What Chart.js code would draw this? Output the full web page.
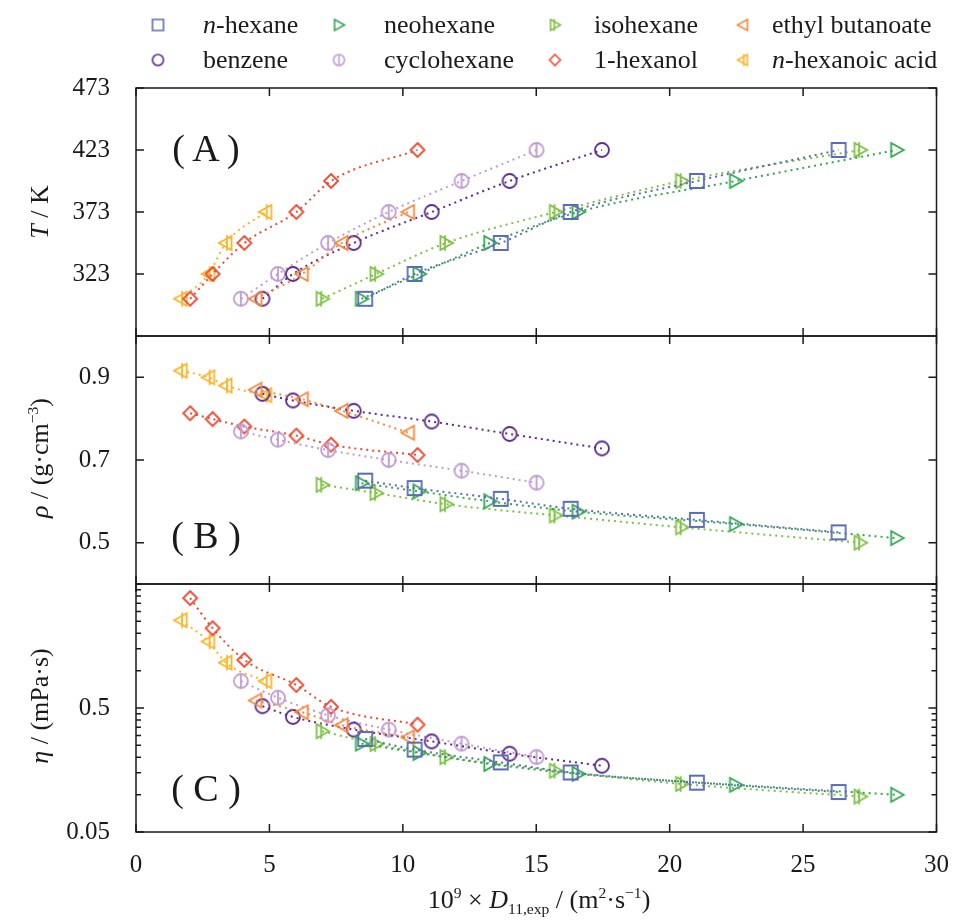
<!DOCTYPE html>
<html>
<head>
<meta charset="utf-8">
<script src="https://cdn.jsdelivr.net/npm/chart.js@4.4.1/dist/chart.umd.min.js"></script>
<style>
    body { margin: 0; background: #fff; }
    #wrap { position: relative; width: 959px; height: 920px; font-family: 'Liberation Serif', 'Times New Roman', serif; color: #1a1a1a; }
    #c { position: absolute; left: 0; top: 0; }
    .leg-mark { position: absolute; transform: translate(-50%, -50%); }
    .leg-text { position: absolute; transform: translateY(-50%); font-size: 26px; white-space: nowrap; }
    .ytitle { position: absolute; font-size: 26px; white-space: nowrap; transform: translate(-50%, -50%) rotate(-90deg); }
    .xtitle { position: absolute; font-size: 26px; white-space: nowrap; transform: translate(-50%, -50%); }
    .panel { position: absolute; font-size: 38px; white-space: nowrap; transform: translate(-50%, -50%); }
    sup, sub { font-size: 0.6em; line-height: 0; }
</style>
</head>
<body>
<div id="wrap">
    <canvas id="c" width="959" height="920"></canvas>
    <div id="legend"></div>
    <div class="ytitle" style="left:40px; top:212px"><i>T</i> / K</div>
    <div class="ytitle" style="left:40px; top:458px"><i>ρ</i> / (g·cm<sup>−3</sup>)</div>
    <div class="ytitle" style="left:40px; top:706px"><i>η</i> / (mPa·s)</div>
    <div class="xtitle" style="left:539px; top:900px">10<sup>9</sup> × <i>D</i><sub>11,exp</sub> / (m<sup>2</sup>·s<sup>−1</sup>)</div>
    <div class="panel" style="left:206px; top:148px">( A )</div>
    <div class="panel" style="left:206px; top:535px">( B )</div>
    <div class="panel" style="left:206px; top:788px">( C )</div>
</div>
<script>
// ---- datos ----
const seriesNames = ['n-hexane', 'neohexane', 'isohexane', 'ethyl butanoate',
                     'benzene', 'cyclohexane', '1-hexanol', 'n-hexanoic acid'];

// 10^9 x D11 (m2/s)
const dHexane      = [8.59, 10.44, 13.67, 16.29, 21.02, 26.33];
const dNeohexane   = [8.45, 10.61, 13.26, 16.57, 22.47, 28.51];
const dIsohexane   = [6.98, 9.00, 11.62, 15.72, 20.45, 27.14];
const dEthylBut    = [4.49, 6.23, 7.72, 10.21];
const dBenzene     = [4.74, 5.88, 8.16, 11.08, 14.00, 17.46];
const dCyclohexane = [3.93, 5.32, 7.20, 9.47, 12.20, 15.01];
const dHexanol     = [2.03, 2.87, 4.06, 6.01, 7.31, 10.55];
const dHexanoic    = [1.69, 2.72, 3.37, 4.86];

// T / K
const tSix  = [303, 323, 348, 373, 398, 423];
const tFour = [303, 323, 348, 373];

// densidad
const rhoHexane      = [0.650, 0.632, 0.606, 0.582, 0.555, 0.525];
const rhoNeohexane   = [0.644, 0.624, 0.600, 0.575, 0.545, 0.511];
const rhoIsohexane   = [0.640, 0.620, 0.593, 0.566, 0.537, 0.500];
const rhoEthylBut    = [0.870, 0.847, 0.819, 0.766];
const rhoBenzene     = [0.860, 0.844, 0.819, 0.793, 0.763, 0.728];
const rhoCyclohexane = [0.769, 0.749, 0.724, 0.700, 0.674, 0.645];
const rhoHexanol     = [0.813, 0.799, 0.781, 0.759, 0.737, 0.712];
const rhoHexanoic    = [0.916, 0.900, 0.880, 0.857];

// viscosidad
const etaHexane      = [0.281, 0.231, 0.182, 0.151, 0.125, 0.105];
const etaNeohexane   = [0.258, 0.217, 0.177, 0.147, 0.120, 0.0998];
const etaIsohexane   = [0.325, 0.256, 0.201, 0.156, 0.122, 0.0966];
const etaEthylBut    = [0.575, 0.462, 0.363, 0.290];
const etaBenzene     = [0.517, 0.424, 0.335, 0.269, 0.214, 0.171];
const etaCyclohexane = [0.824, 0.605, 0.437, 0.335, 0.258, 0.201];
const etaHexanol     = [3.85, 2.20, 1.22, 0.766, 0.511, 0.367];
const etaHexanoic    = [2.55, 1.72, 1.16, 0.824];

// ticks
const ticksT   = [323, 373, 423, 473];
const ticksRho = [0.5, 0.7, 0.9];
const ticksEta = [0.05, 0.1, 0.15, 0.2, 0.25, 0.3, 0.35, 0.4, 0.45, 0.5,
                  1, 1.5, 2, 2.5, 3, 3.5, 4, 4.5, 5];
const ticksEtaLabels = [0.05, 0.5];
const ticksX   = [0, 5, 10, 15, 20, 25, 30];

const FONT = "'Liberation Serif', 'Times New Roman', serif";
const colors = ['#5b6cb6', '#2fa84f', '#7dc243', '#f7893b', '#5d2a8e', '#c39bd3', '#ee4a2e', '#fbb429'];
const shapes = ['square', 'triRight', 'triRightBar', 'triLeft', 'circle', 'circleBar', 'diamond', 'triLeftBar'];

const allD   = [dHexane, dNeohexane, dIsohexane, dEthylBut, dBenzene, dCyclohexane, dHexanol, dHexanoic];
const allT   = [tSix, tSix, tSix, tFour, tSix, tSix, tSix, tFour];
const allRho = [rhoHexane, rhoNeohexane, rhoIsohexane, rhoEthylBut, rhoBenzene, rhoCyclohexane, rhoHexanol, rhoHexanoic];
const allEta = [etaHexane, etaNeohexane, etaIsohexane, etaEthylBut, etaBenzene, etaCyclohexane, etaHexanol, etaHexanoic];

// marcadores huecos dibujados en un canvas pequeño
function makeMarker(shape, color, h, lw) {
    const size = Math.ceil(2 * h + 6);
    const cv = document.createElement('canvas');
    cv.width = size; cv.height = size;
    const g = cv.getContext('2d');
    const c = size / 2;
    g.strokeStyle = color;
    g.lineWidth = lw;
    g.beginPath();
    if (shape === 'square') {
        g.rect(c - h, c - h, 2 * h, 2 * h);
    } else if (shape === 'circle' || shape === 'circleBar') {
        g.arc(c, c, h, 0, Math.PI * 2);
        if (shape === 'circleBar') { g.moveTo(c, c - h); g.lineTo(c, c + h); }
    } else if (shape === 'diamond') {
        g.moveTo(c, c - h); g.lineTo(c + h, c); g.lineTo(c, c + h); g.lineTo(c - h, c); g.closePath();
    } else if (shape.startsWith('triRight')) {
        g.moveTo(c - h * 0.8, c - h); g.lineTo(c + h, c); g.lineTo(c - h * 0.8, c + h); g.closePath();
        if (shape === 'triRightBar') { g.moveTo(c - h * 0.15, c - h * 1.1); g.lineTo(c - h * 0.15, c + h * 1.1); }
    } else {
        g.moveTo(c + h * 0.8, c - h); g.lineTo(c - h, c); g.lineTo(c + h * 0.8, c + h); g.closePath();
        if (shape === 'triLeftBar') { g.moveTo(c + h * 0.15, c - h * 1.1); g.lineTo(c + h * 0.15, c + h * 1.1); }
    }
    g.stroke();
    return cv;
}

const markers = shapes.map((s, i) => makeMarker(s, colors[i], 7, 1.8));

function buildSet(i, ys, axis) {
    return {
        label: seriesNames[i],
        data: allD[i].map((x, k) => ({ x: x, y: ys[k] })),
        yAxisID: axis,
        borderColor: colors[i],
        backgroundColor: colors[i],
        borderWidth: 2,
        borderDash: [2, 4],
        cubicInterpolationMode: 'monotone',
        pointStyle: markers[i],
        pointRadius: 7,
        fill: false
    };
}

const datasets = [];
seriesNames.forEach((n, i) => {
    datasets.push(buildSet(i, allT[i], 'yA'));
    datasets.push(buildSet(i, allRho[i], 'yB'));
    datasets.push(buildSet(i, allEta[i], 'yC'));
});

// marcos y ticks hacia dentro
const framePlugin = {
    id: 'frames',
    afterDraw(chart) {
        const { ctx, chartArea: a, scales } = chart;
        ctx.save();
        ctx.strokeStyle = '#1a1a1a';
        ctx.lineWidth = 1.5;
        ['yA', 'yB', 'yC'].forEach(id => {
            const s = scales[id];
            ctx.strokeRect(a.left, s.top, a.right - a.left, s.bottom - s.top);
            ctx.beginPath();
            s.ticks.forEach(t => {
                const y = s.getPixelForValue(t.value);
                const len = t.label ? 8 : 5;
                ctx.moveTo(a.left, y); ctx.lineTo(a.left + len, y);
                ctx.moveTo(a.right, y); ctx.lineTo(a.right - len, y);
            });
            scales.x.ticks.forEach(t => {
                const x = scales.x.getPixelForValue(t.value);
                ctx.moveTo(x, s.top); ctx.lineTo(x, s.top + 8);
                ctx.moveTo(x, s.bottom); ctx.lineTo(x, s.bottom - 8);
            });
            ctx.stroke();
        });
        ctx.restore();
    }
};

const tickFont = { family: FONT, size: 25 };
const noGrid = { display: false };
const noBorder = { display: false };

const ctx = document.getElementById('c').getContext('2d');
// los ejes apilados se colocan de abajo a arriba en orden inverso: C, B, A
new Chart(ctx, {
    type: 'line',
    data: { datasets: datasets },
    options: {
        responsive: false,
        animation: false,
        layout: { padding: { top: 88, right: 19, bottom: 36, left: 0 } },
        plugins: { legend: { display: false }, tooltip: { enabled: false } },
        scales: {
            x: {
                type: 'linear', min: 0, max: 30,
                grid: noGrid, border: noBorder,
                afterBuildTicks: s => { s.ticks = ticksX.map(v => ({ value: v })); },
                ticks: { font: tickFont, color: '#1a1a1a', padding: 10, autoSkip: false, maxRotation: 0 },
                afterFit: s => { s.height = 52; }
            },
            yC: {
                type: 'logarithmic', position: 'left', stack: 'panels', stackWeight: 1,
                min: 0.05, max: 5,
                grid: noGrid, border: noBorder,
                afterBuildTicks: s => { s.ticks = ticksEta.map(v => ({ value: v })); },
                ticks: { font: tickFont, color: '#1a1a1a', padding: 18, autoSkip: false,
                         callback: v => ticksEtaLabels.includes(v) ? String(v) : '' },
                afterFit: s => { s.width = 136; }
            },
            yB: {
                type: 'linear', position: 'left', stack: 'panels', stackWeight: 1,
                min: 0.4, max: 1.0,
                grid: noGrid, border: noBorder,
                afterBuildTicks: s => { s.ticks = ticksRho.map(v => ({ value: v })); },
                ticks: { font: tickFont, color: '#1a1a1a', padding: 18, autoSkip: false,
                         callback: v => v.toFixed(1) },
                afterFit: s => { s.width = 136; }
            },
            yA: {
                type: 'linear', position: 'left', stack: 'panels', stackWeight: 1,
                min: 273, max: 473,
                grid: noGrid, border: noBorder,
                afterBuildTicks: s => { s.ticks = ticksT.map(v => ({ value: v })); },
                ticks: { font: tickFont, color: '#1a1a1a', padding: 18, autoSkip: false },
                afterFit: s => { s.width = 136; }
            }
        }
    },
    plugins: [framePlugin]
});

// leyenda en HTML (4 columnas x 2 filas)
const legMarkX = [158, 339, 555, 743];
const legTextX = [203, 384, 594, 772];
const legRowY  = [25, 60];
const legend = document.getElementById('legend');
seriesNames.forEach((n, i) => {
    const col = i % 4, row = Math.floor(i / 4);
    const m = makeMarker(shapes[i], colors[i], 5.5, 1.6);
    m.className = 'leg-mark';
    m.style.left = legMarkX[col] + 'px';
    m.style.top = legRowY[row] + 'px';
    legend.appendChild(m);
    const t = document.createElement('div');
    t.className = 'leg-text';
    t.style.left = legTextX[col] + 'px';
    t.style.top = legRowY[row] + 'px';
    t.innerHTML = n.startsWith('n-') ? '<i>n</i>' + n.slice(1) : n;
    legend.appendChild(t);
});
</script>
</body>
</html>
